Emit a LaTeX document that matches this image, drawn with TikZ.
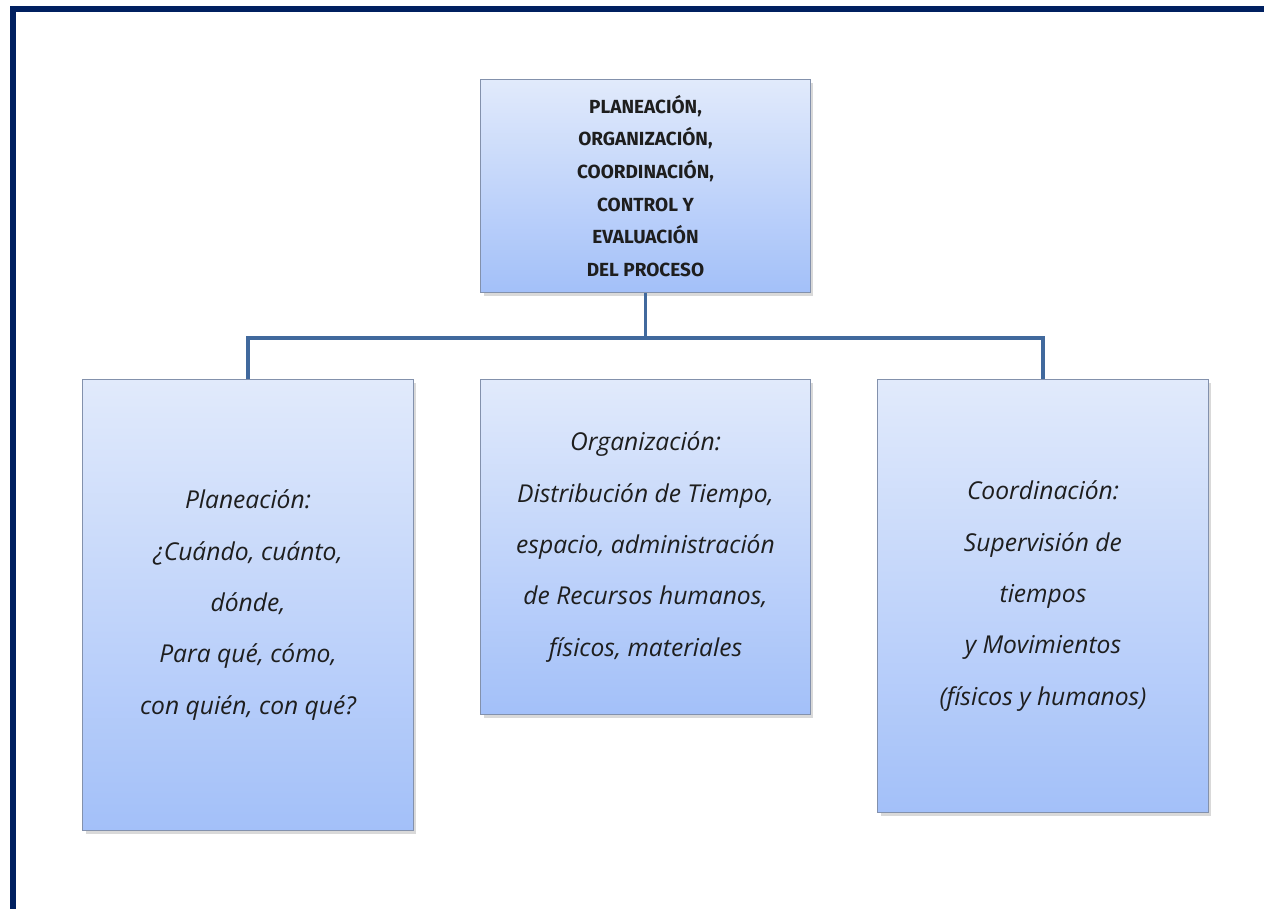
\documentclass[tikz,border=0pt]{standalone}
\usepackage{fontspec}
\setmainfont{Open Sans}
\newfontfamily\capsfont{Fira Sans}
\usetikzlibrary{shadows}
\definecolor{navy}{HTML}{002060}
\definecolor{boxtop}{HTML}{E1EAFB}
\definecolor{boxbot}{HTML}{A3C0F9}
\definecolor{boxline}{HTML}{8391AC}
\definecolor{linkblue}{HTML}{41699D}
\definecolor{ink}{HTML}{1E1E1E}
\begin{document}
\begin{tikzpicture}[x=0.025cm,y=-0.025cm,
    main node/.style={rectangle,draw=boxline,line width=0.7pt,top color=boxtop,bottom color=boxbot,
        drop shadow={opacity=0.3,shadow xshift=2pt,shadow yshift=-2.5pt},
        align=center,text=ink,inner sep=0pt},
    head node/.style={main node,font=\capsfont\bfseries\fontsize{13.5}{23.2}\selectfont},
    leaf node/.style={main node,font=\itshape\fontsize{17.5}{36.5}\selectfont},
    link/.style={draw=linkblue,line width=2.8pt}]
    \useasboundingbox (0,0) rectangle (1264,909);
    % frame
    \fill[navy] (10,6) rectangle (1264,12);
    \fill[navy] (10,6) rectangle (16,909);

    \node[head node, minimum width=8.225cm, minimum height=5.3cm] at (645.5,186) (top)
        {PLANEACIÓN,\\ ORGANIZACIÓN,\\ COORDINACIÓN,\\ CONTROL Y\\ EVALUACIÓN\\ DEL PROCESO};
    \node[leaf node, minimum width=8.25cm, minimum height=11.25cm] at (248,605) (plan)
        {Planeación:\\ ¿Cuándo, cuánto,\\ dónde,\\ Para qué, cómo,\\ con quién, con qué?};
    \node[leaf node, minimum width=8.225cm, minimum height=8.35cm] at (645.5,547) (org)
        {Organización:\\ Distribución de Tiempo,\\ espacio, administración\\ de Recursos humanos,\\ físicos, materiales};
    \node[leaf node, minimum width=8.25cm, minimum height=10.8cm] at (1043,596) (coord)
        {Coordinación:\\ Supervisión de\\ tiempos\\ y Movimientos\\ (físicos y humanos)};

    \coordinate (bus) at (645.5,338);
    \path[link]
        (top.south) edge (bus)
        (plan.north) edge[to path={|- (\tikztotarget)}] (bus)
        (bus) edge[to path={-| (\tikztotarget)}] (coord.north)
        ;
\end{tikzpicture}
\end{document}
